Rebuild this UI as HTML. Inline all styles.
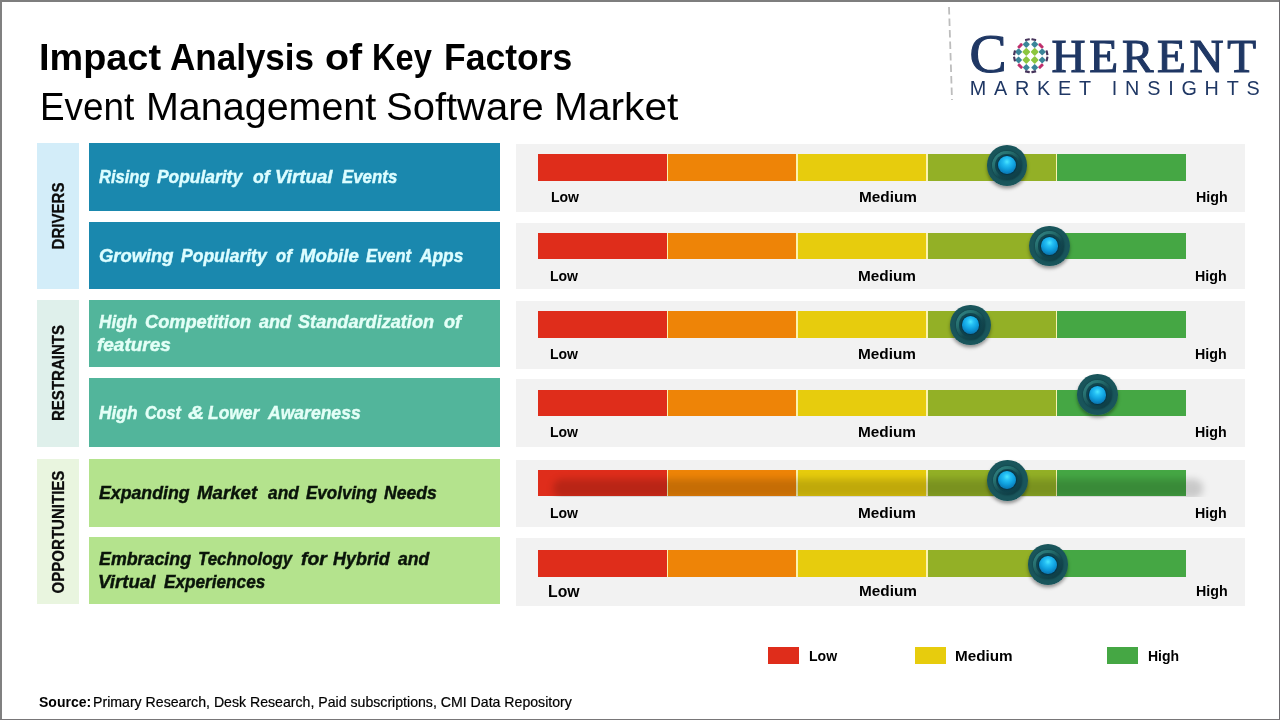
<!DOCTYPE html>
<html lang="en"><head><meta charset="utf-8"><title>Impact Analysis of Key Factors</title>
<style>
html,body{margin:0;padding:0;background:#fff;}
body{width:1280px;height:720px;position:relative;overflow:hidden;font-family:"Liberation Sans",sans-serif;}
.b{position:absolute;}
.t{position:absolute;white-space:nowrap;transform-origin:0 50%;}
.rot{position:absolute;white-space:nowrap;font:bold 17.3px/18px "Liberation Sans",sans-serif;color:#0c0c0c;-webkit-text-stroke:0.3px #0c0c0c;transform:translate(-50%,-50%) rotate(-90deg) scaleX(.87);}
.frame{position:absolute;left:0;top:0;width:1280px;height:720px;pointer-events:none;}
.frame u{position:absolute;display:block;}
.knob{position:absolute;width:40.5px;height:40.5px;border-radius:50%;
 background:radial-gradient(circle at 50% 50%, #19555b 0, #19555b 76%, #1e5f64 87%, #164b52 96%, #103a41 100%);
 box-shadow:0 2.5px 3.5px rgba(0,0,0,.38);}
.knob i{position:absolute;left:5.5px;top:5.5px;right:5.5px;bottom:5.5px;border-radius:50%;
 background:linear-gradient(140deg,#35888a 0,#26706f 30%,#13474f 60%,#0c3a42 100%);box-shadow:0 0 1.5px rgba(6,40,46,.9);}
.knob i:after{content:"";position:absolute;left:3px;top:3px;right:3px;bottom:3px;border-radius:50%;background:radial-gradient(circle at 45% 40%,#14505a 0,#0d3d46 100%);}
.knob b{position:absolute;left:11.4px;top:11.2px;width:17.6px;height:18px;border-radius:50%;
 background:radial-gradient(circle at 50% 32%, #4ae6ff 0, #25bff4 22%, #10a2e0 48%, #0b86c4 68%, #0a6fa6 86%, #2aa6d6 100%);
 box-shadow:0 0 0 0.8px rgba(6,52,74,.85),0 0 2px rgba(0,30,45,.8);}
</style></head>
<body>
<div class="t" style="left:38.97px;top:38.56px;font:normal bold 37.6px/37.6px 'Liberation Sans', sans-serif;color:#000;transform:scaleX(1.0072);">Impact</div><div class="t" style="left:170.38px;top:38.56px;font:normal bold 37.6px/37.6px 'Liberation Sans', sans-serif;color:#000;transform:scaleX(0.9320);">Analysis</div><div class="t" style="left:324.76px;top:38.56px;font:normal bold 37.6px/37.6px 'Liberation Sans', sans-serif;color:#000;transform:scaleX(1.0478);">of</div><div class="t" style="left:371.82px;top:38.56px;font:normal bold 37.6px/37.6px 'Liberation Sans', sans-serif;color:#000;transform:scaleX(0.8683);">Key</div><div class="t" style="left:444.12px;top:38.56px;font:normal bold 37.6px/37.6px 'Liberation Sans', sans-serif;color:#000;transform:scaleX(0.9447);">Factors</div>
<div class="t" style="left:39.78px;top:88.23px;font:normal normal 38.0px/38.0px 'Liberation Sans', sans-serif;color:#000;transform:scaleX(0.9699);">Event</div><div class="t" style="left:146.26px;top:88.23px;font:normal normal 38.0px/38.0px 'Liberation Sans', sans-serif;color:#000;transform:scaleX(1.0382);">Management</div><div class="t" style="left:386.18px;top:88.23px;font:normal normal 38.0px/38.0px 'Liberation Sans', sans-serif;color:#000;transform:scaleX(1.0522);">Software</div><div class="t" style="left:554.46px;top:88.23px;font:normal normal 38.0px/38.0px 'Liberation Sans', sans-serif;color:#000;transform:scaleX(1.0715);">Market</div>
<div class="b" style="left:37.3px;top:143.2px;width:41.40px;height:146.20px;background:#d3edf9;"></div>
<div class="rot" style="left:58.2px;top:216.30px;">DRIVERS</div>
<div class="b" style="left:37.3px;top:300.2px;width:41.40px;height:146.50px;background:#dff0eb;"></div>
<div class="rot" style="left:58.2px;top:373.45px;">RESTRAINTS</div>
<div class="b" style="left:37.3px;top:459.3px;width:41.40px;height:145.20px;background:#e9f5df;"></div>
<div class="rot" style="left:58.2px;top:531.90px;">OPPORTUNITIES</div>
<div class="b" style="left:89px;top:143.2px;width:411.00px;height:68.30px;background:#1a88ae;"></div>
<div class="t" style="left:99.21px;top:167.78px;font:italic bold 18.8px/18.8px 'Liberation Sans', sans-serif;color:#dcfdff;transform:scaleX(0.8813);-webkit-text-stroke:0.45px #dcfdff;">Rising</div><div class="t" style="left:157.19px;top:167.78px;font:italic bold 18.8px/18.8px 'Liberation Sans', sans-serif;color:#dcfdff;transform:scaleX(0.9265);-webkit-text-stroke:0.45px #dcfdff;">Popularity</div><div class="t" style="left:253.21px;top:167.78px;font:italic bold 18.8px/18.8px 'Liberation Sans', sans-serif;color:#dcfdff;transform:scaleX(0.9349);-webkit-text-stroke:0.45px #dcfdff;">of</div><div class="t" style="left:274.69px;top:167.78px;font:italic bold 18.8px/18.8px 'Liberation Sans', sans-serif;color:#dcfdff;transform:scaleX(0.9956);-webkit-text-stroke:0.45px #dcfdff;">Virtual</div><div class="t" style="left:342.20px;top:167.78px;font:italic bold 18.8px/18.8px 'Liberation Sans', sans-serif;color:#dcfdff;transform:scaleX(0.8974);-webkit-text-stroke:0.45px #dcfdff;">Events</div>
<div class="b" style="left:89px;top:222.2px;width:411.00px;height:67.20px;background:#1a88ae;"></div>
<div class="t" style="left:98.60px;top:246.98px;font:italic bold 18.8px/18.8px 'Liberation Sans', sans-serif;color:#dcfdff;transform:scaleX(0.9784);-webkit-text-stroke:0.45px #dcfdff;">Growing</div><div class="t" style="left:180.79px;top:246.98px;font:italic bold 18.8px/18.8px 'Liberation Sans', sans-serif;color:#dcfdff;transform:scaleX(0.9330);-webkit-text-stroke:0.45px #dcfdff;">Popularity</div><div class="t" style="left:276.19px;top:246.98px;font:italic bold 18.8px/18.8px 'Liberation Sans', sans-serif;color:#dcfdff;transform:scaleX(0.8868);-webkit-text-stroke:0.45px #dcfdff;">of</div><div class="t" style="left:299.57px;top:246.98px;font:italic bold 18.8px/18.8px 'Liberation Sans', sans-serif;color:#dcfdff;transform:scaleX(0.9878);-webkit-text-stroke:0.45px #dcfdff;">Mobile</div><div class="t" style="left:366.41px;top:246.98px;font:italic bold 18.8px/18.8px 'Liberation Sans', sans-serif;color:#dcfdff;transform:scaleX(0.8823);-webkit-text-stroke:0.45px #dcfdff;">Event</div><div class="t" style="left:420.46px;top:246.98px;font:italic bold 18.8px/18.8px 'Liberation Sans', sans-serif;color:#dcfdff;transform:scaleX(0.9230);-webkit-text-stroke:0.45px #dcfdff;">Apps</div>
<div class="b" style="left:89px;top:300.2px;width:411.00px;height:67.30px;background:#52b59b;"></div>
<div class="t" style="left:99.20px;top:312.78px;font:italic bold 18.8px/18.8px 'Liberation Sans', sans-serif;color:#e4fff7;transform:scaleX(0.9137);-webkit-text-stroke:0.45px #e4fff7;">High</div><div class="t" style="left:144.61px;top:312.78px;font:italic bold 18.8px/18.8px 'Liberation Sans', sans-serif;color:#e4fff7;transform:scaleX(0.9691);-webkit-text-stroke:0.45px #e4fff7;">Competition</div><div class="t" style="left:259.11px;top:312.78px;font:italic bold 18.8px/18.8px 'Liberation Sans', sans-serif;color:#e4fff7;transform:scaleX(0.9637);-webkit-text-stroke:0.45px #e4fff7;">and</div><div class="t" style="left:298.18px;top:312.78px;font:italic bold 18.8px/18.8px 'Liberation Sans', sans-serif;color:#e4fff7;transform:scaleX(0.9660);-webkit-text-stroke:0.45px #e4fff7;">Standardization</div><div class="t" style="left:443.94px;top:312.78px;font:italic bold 18.8px/18.8px 'Liberation Sans', sans-serif;color:#e4fff7;transform:scaleX(0.9670);-webkit-text-stroke:0.45px #e4fff7;">of</div>
<div class="t" style="left:96.71px;top:336.48px;font:italic bold 18.8px/18.8px 'Liberation Sans', sans-serif;color:#e4fff7;transform:scaleX(1.0091);-webkit-text-stroke:0.45px #e4fff7;">features</div>
<div class="b" style="left:89px;top:378.0px;width:411.00px;height:68.70px;background:#52b59b;"></div>
<div class="t" style="left:99.19px;top:403.78px;font:italic bold 18.8px/18.8px 'Liberation Sans', sans-serif;color:#e4fff7;transform:scaleX(0.9235);-webkit-text-stroke:0.45px #e4fff7;">High</div><div class="t" style="left:144.96px;top:403.78px;font:italic bold 18.8px/18.8px 'Liberation Sans', sans-serif;color:#e4fff7;transform:scaleX(0.8563);-webkit-text-stroke:0.45px #e4fff7;">Cost</div><div class="t" style="left:188.21px;top:403.78px;font:italic bold 18.8px/18.8px 'Liberation Sans', sans-serif;color:#e4fff7;transform:scaleX(1.1982);-webkit-text-stroke:0.45px #e4fff7;">&amp;</div><div class="t" style="left:208.44px;top:403.78px;font:italic bold 18.8px/18.8px 'Liberation Sans', sans-serif;color:#e4fff7;transform:scaleX(0.9269);-webkit-text-stroke:0.45px #e4fff7;">Lower</div><div class="t" style="left:267.86px;top:403.78px;font:italic bold 18.8px/18.8px 'Liberation Sans', sans-serif;color:#e4fff7;transform:scaleX(0.9341);-webkit-text-stroke:0.45px #e4fff7;">Awareness</div>
<div class="b" style="left:89px;top:459.3px;width:411.00px;height:67.40px;background:#b4e38d;"></div>
<div class="t" style="left:98.89px;top:484.08px;font:italic bold 18.8px/18.8px 'Liberation Sans', sans-serif;color:#0a140a;transform:scaleX(0.9439);-webkit-text-stroke:0.45px #0a140a;">Expanding</div><div class="t" style="left:197.27px;top:484.08px;font:italic bold 18.8px/18.8px 'Liberation Sans', sans-serif;color:#0a140a;transform:scaleX(0.9942);-webkit-text-stroke:0.45px #0a140a;">Market</div><div class="t" style="left:267.82px;top:484.08px;font:italic bold 18.8px/18.8px 'Liberation Sans', sans-serif;color:#0a140a;transform:scaleX(0.9221);-webkit-text-stroke:0.45px #0a140a;">and</div><div class="t" style="left:306.20px;top:484.08px;font:italic bold 18.8px/18.8px 'Liberation Sans', sans-serif;color:#0a140a;transform:scaleX(0.9057);-webkit-text-stroke:0.45px #0a140a;">Evolving</div><div class="t" style="left:384.39px;top:484.08px;font:italic bold 18.8px/18.8px 'Liberation Sans', sans-serif;color:#0a140a;transform:scaleX(0.9387);-webkit-text-stroke:0.45px #0a140a;">Needs</div>
<div class="b" style="left:89px;top:537.3px;width:411.00px;height:67.20px;background:#b4e38d;"></div>
<div class="t" style="left:98.89px;top:549.98px;font:italic bold 18.8px/18.8px 'Liberation Sans', sans-serif;color:#0a140a;transform:scaleX(0.9480);-webkit-text-stroke:0.45px #0a140a;">Embracing</div><div class="t" style="left:198.40px;top:549.98px;font:italic bold 18.8px/18.8px 'Liberation Sans', sans-serif;color:#0a140a;transform:scaleX(0.8998);-webkit-text-stroke:0.45px #0a140a;">Technology</div><div class="t" style="left:301.00px;top:549.98px;font:italic bold 18.8px/18.8px 'Liberation Sans', sans-serif;color:#0a140a;transform:scaleX(1.0353);-webkit-text-stroke:0.45px #0a140a;">for</div><div class="t" style="left:333.18px;top:549.98px;font:italic bold 18.8px/18.8px 'Liberation Sans', sans-serif;color:#0a140a;transform:scaleX(0.9551);-webkit-text-stroke:0.45px #0a140a;">Hybrid</div><div class="t" style="left:398.11px;top:549.98px;font:italic bold 18.8px/18.8px 'Liberation Sans', sans-serif;color:#0a140a;transform:scaleX(0.9370);-webkit-text-stroke:0.45px #0a140a;">and</div>
<div class="t" style="left:98.44px;top:573.28px;font:italic bold 18.8px/18.8px 'Liberation Sans', sans-serif;color:#0a140a;transform:scaleX(0.9965);-webkit-text-stroke:0.45px #0a140a;">Virtual</div><div class="t" style="left:164.40px;top:573.28px;font:italic bold 18.8px/18.8px 'Liberation Sans', sans-serif;color:#0a140a;transform:scaleX(0.9152);-webkit-text-stroke:0.45px #0a140a;">Experiences</div>
<div class="b" style="left:516px;top:144.0px;width:728.80px;height:67.80px;background:#f2f2f2;"></div>
<div class="b" style="left:538.0px;top:154.0px;width:648.00px;height:26.80px;background:#fbf3b0;"></div>
<div class="b" style="left:538.0px;top:154.0px;width:128.80px;height:26.80px;background:#df2d1b;"></div>
<div class="b" style="left:668.4px;top:154.0px;width:128.00px;height:26.80px;background:#ee8407;"></div>
<div class="b" style="left:798.0px;top:154.0px;width:128.00px;height:26.80px;background:#e7cc0d;"></div>
<div class="b" style="left:927.6px;top:154.0px;width:128.00px;height:26.80px;background:#93b026;"></div>
<div class="b" style="left:1057.2px;top:154.0px;width:128.80px;height:26.80px;background:#45a744;"></div>
<div class="t" style="left:550.56px;top:190.49px;font:normal bold 14.3px/14.3px 'Liberation Sans', sans-serif;color:#000;transform:scaleX(0.9798);">Low</div>
<div class="t" style="left:858.67px;top:190.49px;font:normal bold 14.3px/14.3px 'Liberation Sans', sans-serif;color:#000;transform:scaleX(1.0735);">Medium</div>
<div class="t" style="left:1195.85px;top:190.49px;font:normal bold 14.3px/14.3px 'Liberation Sans', sans-serif;color:#000;transform:scaleX(0.9960);">High</div>
<div class="knob" style="left:986.95px;top:145.25px"><i></i><b></b></div>
<div class="b" style="left:516px;top:223.2px;width:728.80px;height:66.30px;background:#f2f2f2;"></div>
<div class="b" style="left:538.0px;top:233.0px;width:648.00px;height:25.60px;background:#fbf3b0;"></div>
<div class="b" style="left:538.0px;top:233.0px;width:128.80px;height:25.60px;background:#df2d1b;"></div>
<div class="b" style="left:668.4px;top:233.0px;width:128.00px;height:25.60px;background:#ee8407;"></div>
<div class="b" style="left:798.0px;top:233.0px;width:128.00px;height:25.60px;background:#e7cc0d;"></div>
<div class="b" style="left:927.6px;top:233.0px;width:128.00px;height:25.60px;background:#93b026;"></div>
<div class="b" style="left:1057.2px;top:233.0px;width:128.80px;height:25.60px;background:#45a744;"></div>
<div class="t" style="left:549.66px;top:269.49px;font:normal bold 14.3px/14.3px 'Liberation Sans', sans-serif;color:#000;transform:scaleX(0.9798);">Low</div>
<div class="t" style="left:857.77px;top:269.49px;font:normal bold 14.3px/14.3px 'Liberation Sans', sans-serif;color:#000;transform:scaleX(1.0735);">Medium</div>
<div class="t" style="left:1194.95px;top:269.49px;font:normal bold 14.3px/14.3px 'Liberation Sans', sans-serif;color:#000;transform:scaleX(0.9960);">High</div>
<div class="knob" style="left:1029.25px;top:225.95px"><i></i><b></b></div>
<div class="b" style="left:516px;top:301.0px;width:728.80px;height:67.60px;background:#f2f2f2;"></div>
<div class="b" style="left:538.0px;top:311.0px;width:648.00px;height:26.60px;background:#fbf3b0;"></div>
<div class="b" style="left:538.0px;top:311.0px;width:128.80px;height:26.60px;background:#df2d1b;"></div>
<div class="b" style="left:668.4px;top:311.0px;width:128.00px;height:26.60px;background:#ee8407;"></div>
<div class="b" style="left:798.0px;top:311.0px;width:128.00px;height:26.60px;background:#e7cc0d;"></div>
<div class="b" style="left:927.6px;top:311.0px;width:128.00px;height:26.60px;background:#93b026;"></div>
<div class="b" style="left:1057.2px;top:311.0px;width:128.80px;height:26.60px;background:#45a744;"></div>
<div class="t" style="left:549.66px;top:347.49px;font:normal bold 14.3px/14.3px 'Liberation Sans', sans-serif;color:#000;transform:scaleX(0.9798);">Low</div>
<div class="t" style="left:857.77px;top:347.49px;font:normal bold 14.3px/14.3px 'Liberation Sans', sans-serif;color:#000;transform:scaleX(1.0735);">Medium</div>
<div class="t" style="left:1194.95px;top:347.49px;font:normal bold 14.3px/14.3px 'Liberation Sans', sans-serif;color:#000;transform:scaleX(0.9960);">High</div>
<div class="knob" style="left:950.35px;top:304.75px"><i></i><b></b></div>
<div class="b" style="left:516px;top:379.3px;width:728.80px;height:67.40px;background:#f2f2f2;"></div>
<div class="b" style="left:538.0px;top:390.0px;width:648.00px;height:25.80px;background:#fbf3b0;"></div>
<div class="b" style="left:538.0px;top:390.0px;width:128.80px;height:25.80px;background:#df2d1b;"></div>
<div class="b" style="left:668.4px;top:390.0px;width:128.00px;height:25.80px;background:#ee8407;"></div>
<div class="b" style="left:798.0px;top:390.0px;width:128.00px;height:25.80px;background:#e7cc0d;"></div>
<div class="b" style="left:927.6px;top:390.0px;width:128.00px;height:25.80px;background:#93b026;"></div>
<div class="b" style="left:1057.2px;top:390.0px;width:128.80px;height:25.80px;background:#45a744;"></div>
<div class="t" style="left:549.66px;top:425.49px;font:normal bold 14.3px/14.3px 'Liberation Sans', sans-serif;color:#000;transform:scaleX(0.9798);">Low</div>
<div class="t" style="left:857.77px;top:425.49px;font:normal bold 14.3px/14.3px 'Liberation Sans', sans-serif;color:#000;transform:scaleX(1.0735);">Medium</div>
<div class="t" style="left:1194.95px;top:425.49px;font:normal bold 14.3px/14.3px 'Liberation Sans', sans-serif;color:#000;transform:scaleX(0.9960);">High</div>
<div class="knob" style="left:1077.25px;top:374.35px"><i></i><b></b></div>
<div class="b" style="left:516px;top:460.0px;width:728.80px;height:66.70px;background:#f2f2f2;"></div>
<div class="b" style="left:538.0px;top:470.0px;width:648.00px;height:25.80px;background:#fbf3b0;"></div>
<div class="b" style="left:538.0px;top:470.0px;width:128.80px;height:25.80px;background:#df2d1b;"></div>
<div class="b" style="left:668.4px;top:470.0px;width:128.00px;height:25.80px;background:#ee8407;"></div>
<div class="b" style="left:798.0px;top:470.0px;width:128.00px;height:25.80px;background:#e7cc0d;"></div>
<div class="b" style="left:927.6px;top:470.0px;width:128.00px;height:25.80px;background:#93b026;"></div>
<div class="b" style="left:1057.2px;top:470.0px;width:128.80px;height:25.80px;background:#45a744;"></div>
<div class="b" style="left:538px;top:470.0px;width:690px;height:27.0px;overflow:hidden"><div class="b" style="left:15px;top:8.5px;width:650px;height:19px;background:rgba(0,0,0,.17);filter:blur(3.5px);border-radius:9px"></div></div>
<div class="t" style="left:549.66px;top:505.69px;font:normal bold 14.3px/14.3px 'Liberation Sans', sans-serif;color:#000;transform:scaleX(0.9798);">Low</div>
<div class="t" style="left:857.77px;top:505.69px;font:normal bold 14.3px/14.3px 'Liberation Sans', sans-serif;color:#000;transform:scaleX(1.0735);">Medium</div>
<div class="t" style="left:1194.95px;top:505.69px;font:normal bold 14.3px/14.3px 'Liberation Sans', sans-serif;color:#000;transform:scaleX(0.9960);">High</div>
<div class="knob" style="left:987.05px;top:460.15px"><i></i><b></b></div>
<div class="b" style="left:516px;top:538.2px;width:728.80px;height:67.40px;background:#f2f2f2;"></div>
<div class="b" style="left:538.0px;top:550.0px;width:648.00px;height:26.70px;background:#fbf3b0;"></div>
<div class="b" style="left:538.0px;top:550.0px;width:128.80px;height:26.70px;background:#df2d1b;"></div>
<div class="b" style="left:668.4px;top:550.0px;width:128.00px;height:26.70px;background:#ee8407;"></div>
<div class="b" style="left:798.0px;top:550.0px;width:128.00px;height:26.70px;background:#e7cc0d;"></div>
<div class="b" style="left:927.6px;top:550.0px;width:128.00px;height:26.70px;background:#93b026;"></div>
<div class="b" style="left:1057.2px;top:550.0px;width:128.80px;height:26.70px;background:#45a744;"></div>
<div class="t" style="left:548.34px;top:584.29px;font:normal bold 15.6px/15.6px 'Liberation Sans', sans-serif;color:#000;transform:scaleX(1.0110);">Low</div>
<div class="t" style="left:858.67px;top:583.69px;font:normal bold 14.3px/14.3px 'Liberation Sans', sans-serif;color:#000;transform:scaleX(1.0735);">Medium</div>
<div class="t" style="left:1195.85px;top:583.69px;font:normal bold 14.3px/14.3px 'Liberation Sans', sans-serif;color:#000;transform:scaleX(0.9960);">High</div>
<div class="knob" style="left:1027.95px;top:544.35px"><i></i><b></b></div>
<div class="b" style="left:768px;top:647.3px;width:31.00px;height:17.20px;background:#df2d1b;"></div>
<div class="t" style="left:808.56px;top:649.09px;font:normal bold 14.3px/14.3px 'Liberation Sans', sans-serif;color:#000;transform:scaleX(0.9834);">Low</div>
<div class="b" style="left:915px;top:647.3px;width:31.00px;height:17.20px;background:#e7cc0d;"></div>
<div class="t" style="left:954.78px;top:649.09px;font:normal bold 14.3px/14.3px 'Liberation Sans', sans-serif;color:#000;transform:scaleX(1.0677);">Medium</div>
<div class="b" style="left:1107px;top:647.3px;width:31.00px;height:17.20px;background:#45a744;"></div>
<div class="t" style="left:1147.86px;top:649.09px;font:normal bold 14.3px/14.3px 'Liberation Sans', sans-serif;color:#000;transform:scaleX(0.9793);">High</div>
<div class="t" style="left:39.00px;top:694.89px;font:normal bold 14.3px/14.3px 'Liberation Sans', sans-serif;color:#000;transform:scaleX(0.9797);">Source:</div>
<div class="t" style="left:92.90px;top:694.89px;font:normal normal 14.3px/14.3px 'Liberation Sans', sans-serif;color:#000;transform:scaleX(0.988);-webkit-text-stroke:0.2px #000;">Primary Research, Desk Research, Paid subscriptions, CMI Data Repository</div>
<svg class="b" style="left:940px;top:0;width:20px;height:110px" width="20" height="110"><line x1="9" y1="7" x2="12" y2="100" stroke="#bdbdbd" stroke-width="1.8" stroke-dasharray="7.5 4"/></svg>
<div class="t" style="left:969.60px;top:25.92px;font:normal normal 55.5px/55.5px 'Liberation Serif', serif;color:#1f3764;-webkit-text-stroke:1.15px #1f3764;">C</div>
<div class="t" style="left:1051.60px;top:32.87px;font:normal normal 47.2px/47.2px 'Liberation Serif', serif;color:#1f3764;letter-spacing:3.7px;-webkit-text-stroke:1.1px #1f3764;">HERENT</div>
<div class="t" style="left:969.80px;top:78.64px;font:normal normal 19.8px/19.8px 'Liberation Sans', sans-serif;color:#1f3764;letter-spacing:7.78px;">MARKET INSIGHTS</div>
<svg class="b" style="left:1010px;top:35px" width="42" height="42" viewBox="1010 35 42 42"><rect x="1023.40" y="49.00" width="5.80" height="5.80" rx="0.8" fill="#8cc63f" transform="rotate(45 1026.3 51.9)"/><rect x="1023.40" y="57.10" width="5.80" height="5.80" rx="0.8" fill="#8cc63f" transform="rotate(45 1026.3 60.0)"/><rect x="1031.80" y="49.00" width="5.80" height="5.80" rx="0.8" fill="#8cc63f" transform="rotate(45 1034.7 51.9)"/><rect x="1031.80" y="57.10" width="5.80" height="5.80" rx="0.8" fill="#8cc63f" transform="rotate(45 1034.7 60.0)"/><rect x="1023.70" y="41.80" width="5.20" height="5.20" rx="0.8" fill="#3b8599" transform="rotate(45 1026.3 44.4)"/><rect x="1023.70" y="64.90" width="5.20" height="5.20" rx="0.8" fill="#3b8599" transform="rotate(45 1026.3 67.5)"/><rect x="1032.10" y="41.80" width="5.20" height="5.20" rx="0.8" fill="#3b8599" transform="rotate(45 1034.7 44.4)"/><rect x="1032.10" y="64.90" width="5.20" height="5.20" rx="0.8" fill="#3b8599" transform="rotate(45 1034.7 67.5)"/><rect x="1016.00" y="49.30" width="5.20" height="5.20" rx="0.8" fill="#3b8599" transform="rotate(45 1018.6 51.9)"/><rect x="1039.60" y="49.30" width="5.20" height="5.20" rx="0.8" fill="#3b8599" transform="rotate(45 1042.2 51.9)"/><rect x="1016.00" y="57.40" width="5.20" height="5.20" rx="0.8" fill="#3b8599" transform="rotate(45 1018.6 60.0)"/><rect x="1039.60" y="57.40" width="5.20" height="5.20" rx="0.8" fill="#3b8599" transform="rotate(45 1042.2 60.0)"/><rect x="1017.4000000000001" y="44.349999999999994" width="5.6" height="2.9" rx="0.6" fill="#bf2f6c" transform="rotate(-45 1020.2 45.8)"/><rect x="1038.1000000000001" y="44.349999999999994" width="5.6" height="2.9" rx="0.6" fill="#bf2f6c" transform="rotate(45 1040.9 45.8)"/><rect x="1017.4000000000001" y="64.75" width="5.6" height="2.9" rx="0.6" fill="#bf2f6c" transform="rotate(45 1020.2 66.2)"/><rect x="1038.1000000000001" y="64.75" width="5.6" height="2.9" rx="0.6" fill="#bf2f6c" transform="rotate(-45 1040.9 66.2)"/><rect x="1025.0" y="38.5" width="4.8" height="2.2" rx="0.5" fill="#47355c" transform="rotate(-12 1027.4 39.6)"/><rect x="1031.3999999999999" y="38.5" width="4.8" height="2.2" rx="0.5" fill="#47355c" transform="rotate(12 1033.8 39.6)"/><rect x="1025.0" y="70.7" width="4.8" height="2.2" rx="0.5" fill="#47355c" transform="rotate(12 1027.4 71.8)"/><rect x="1031.3999999999999" y="70.7" width="4.8" height="2.2" rx="0.5" fill="#47355c" transform="rotate(-12 1033.8 71.8)"/><rect x="1012.1" y="51.699999999999996" width="4.8" height="2.2" rx="0.5" fill="#47355c" transform="rotate(-78 1014.5 52.8)"/><rect x="1012.1" y="57.9" width="4.8" height="2.2" rx="0.5" fill="#47355c" transform="rotate(78 1014.5 59.0)"/><rect x="1044.6" y="51.699999999999996" width="4.8" height="2.2" rx="0.5" fill="#47355c" transform="rotate(78 1047.0 52.8)"/><rect x="1044.6" y="57.9" width="4.8" height="2.2" rx="0.5" fill="#47355c" transform="rotate(-78 1047.0 59.0)"/></svg>
<div class="frame"><u style="left:0;top:0;width:1280px;height:1.9px;background:#7e7e7e"></u><u style="left:0;top:0;width:1.75px;height:720px;background:#808080"></u><u style="right:0;top:0;width:1.05px;height:720px;background:#6c6a6e"></u><u style="left:0;bottom:0;width:1280px;height:1.35px;background:#787678"></u></div>
</body></html>
